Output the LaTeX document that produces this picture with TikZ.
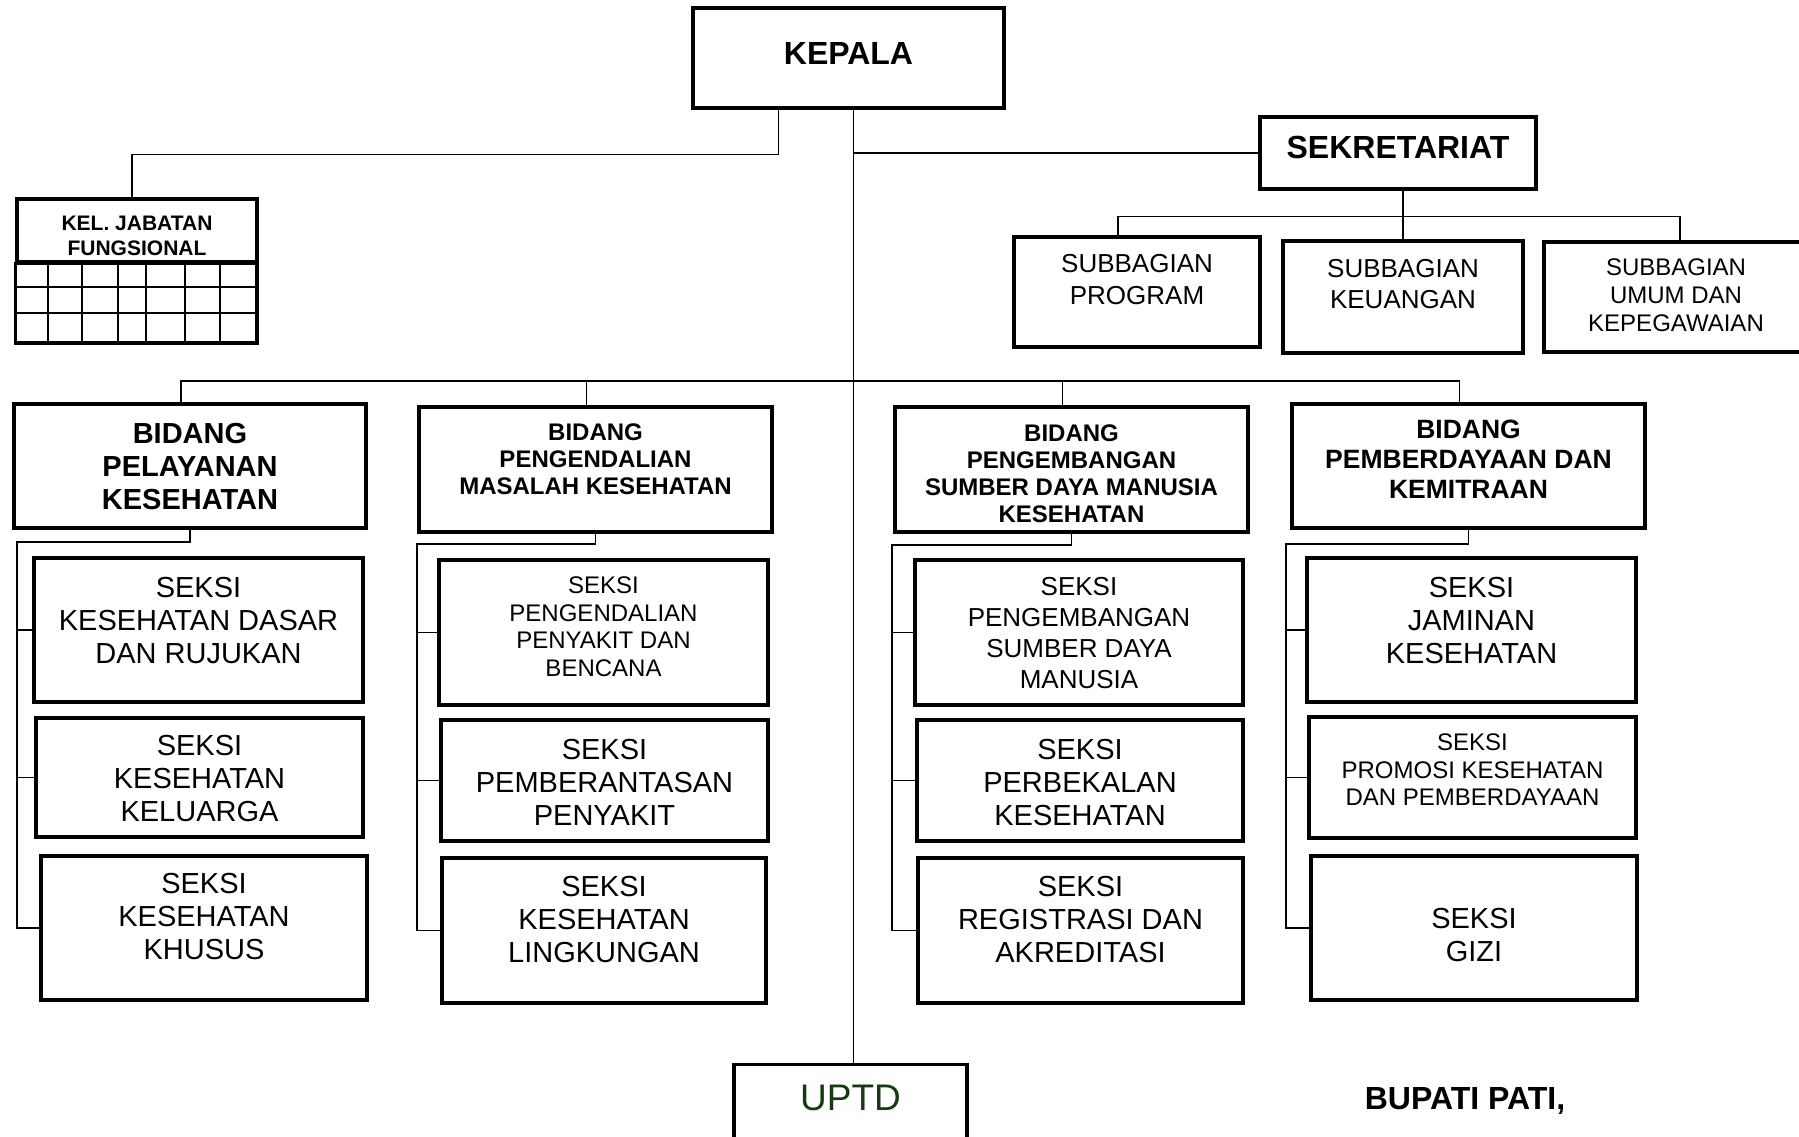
\documentclass[tikz,border=0pt]{standalone}
\usepackage{fontspec}
\setmainfont{Liberation Sans}
\definecolor{uptdgreen}{RGB}{22,58,18}
% lines of a box, lifted by #1 inside the box
\newcommand\lift[2]{\raisebox{#1}[\height][\depth]{\begin{tabular}{@{}c@{}}#2\end{tabular}}}

\begin{document}
\begin{tikzpicture}[x = 1pt, y = -1pt,
    box/.style = { draw, line width = 3.2pt, inner sep = 0pt },
    link/.style = { line width = 1.3pt },
    head/.style = { font = \bfseries\fontsize{32}{36}\selectfont },
    bid/.style = { font = \bfseries\fontsize{29}{33}\selectfont },
    bidsm/.style = { font = \bfseries\fontsize{24}{27}\selectfont },
    sub/.style = { font = \fontsize{26}{32}\selectfont },
    subsm/.style = { font = \fontsize{24}{28}\selectfont },
    seksi/.style = { font = \fontsize{29}{33}\selectfont },
    seksism/.style = { font = \fontsize{24}{27.5}\selectfont }]

  \useasboundingbox (0,0) rectangle (1799,1137);

  % pimpinan dan sekretariat
  \node [box, head, minimum width = 311pt, minimum height = 100pt] (kepala) at (848.5,58) { \raisebox{5pt}[\height][\depth]{KEPALA} };
  \node [box, head, minimum width = 276pt, minimum height = 72pt] (sekr) at (1398,153) { \raisebox{6pt}[\height][\depth]{SEKRETARIAT} };
  \node [box, sub, minimum width = 246pt, minimum height = 110pt] (prog) at (1137,292) { \lift{10pt}{SUBBAGIAN \\ PROGRAM} };
  \node [box, font = \fontsize{26}{31}\selectfont, minimum width = 240pt, minimum height = 112pt] (keu) at (1403,297) { \lift{10pt}{SUBBAGIAN \\ KEUANGAN} };
  \node [box, subsm, minimum width = 264pt, minimum height = 110pt] (umum) at (1676,297) { \lift{-1pt}{SUBBAGIAN \\ UMUM DAN \\ KEPEGAWAIAN} };

  % jabatan fungsional
  \node [box, font = \bfseries\fontsize{21}{25}\selectfont, minimum width = 240pt, minimum height = 63pt] (jab) at (137,230.5) { \lift{-7pt}{KEL. JABATAN \\ FUNGSIONAL} };
  \draw [line width = 3.2pt] (jab.south west) rectangle (257,343);
  \draw [link] (17,287) -- (257,287) (17,313) -- (257,313);
  \foreach \x in {48,82,118,146,185,220}
    \draw [link] (\x,262) -- (\x,343);

  % bidang
  \node [box, bid, minimum width = 352pt, minimum height = 124pt] (b1) at (190,466) { \lift{-4pt}{BIDANG \\ PELAYANAN \\ KESEHATAN} };
  \node [box, bidsm, minimum width = 353pt, minimum height = 125pt] (b2) at (595.5,469.5) { \lift{7pt}{BIDANG \\ PENGENDALIAN \\ MASALAH KESEHATAN} };
  \node [box, bidsm, minimum width = 353pt, minimum height = 125pt] (b3) at (1071.5,469.5) { \lift{-7pt}{BIDANG \\ PENGEMBANGAN \\ SUMBER DAYA MANUSIA \\ KESEHATAN} };
  \node [box, font = \bfseries\fontsize{26.5}{30}\selectfont, minimum width = 353pt, minimum height = 124pt] (b4) at (1468.5,466) { \lift{3.5pt}{BIDANG \\ PEMBERDAYAAN DAN \\ KEMITRAAN} };

  % seksi
  \node [box, seksi, minimum width = 329pt, minimum height = 144pt] (s11) at (198.5,630) { \lift{6pt}{SEKSI \\ KESEHATAN DASAR \\ DAN RUJUKAN} };
  \node [box, seksi, minimum width = 327pt, minimum height = 119pt] (s12) at (199.5,777.5) { \lift{-4pt}{SEKSI \\ KESEHATAN \\ KELUARGA} };
  \node [box, seksi, minimum width = 326pt, minimum height = 144pt] (s13) at (204,928) { \lift{8pt}{SEKSI \\ KESEHATAN \\ KHUSUS} };
  \node [box, seksism, minimum width = 329pt, minimum height = 145pt] (s21) at (603.5,632.5) { \lift{3pt}{SEKSI \\ PENGENDALIAN \\ PENYAKIT DAN \\ BENCANA} };
  \node [box, seksi, minimum width = 327pt, minimum height = 121pt] (s22) at (604.5,780.5) { \lift{-5pt}{SEKSI \\ PEMBERANTASAN \\ PENYAKIT} };
  \node [box, seksi, minimum width = 324pt, minimum height = 145pt] (s23) at (604,930.5) { \lift{8pt}{SEKSI \\ KESEHATAN \\ LINGKUNGAN} };
  \node [box, font = \fontsize{26}{31}\selectfont, minimum width = 328pt, minimum height = 145pt] (s31) at (1079,632.5) { \lift{-3pt}{SEKSI \\ PENGEMBANGAN \\ SUMBER DAYA \\ MANUSIA} };
  \node [box, seksi, minimum width = 326pt, minimum height = 121pt] (s32) at (1080,780.5) { \lift{-5pt}{SEKSI \\ PERBEKALAN \\ KESEHATAN} };
  \node [box, seksi, minimum width = 325pt, minimum height = 145pt] (s33) at (1080.5,930.5) { \lift{8pt}{SEKSI \\ REGISTRASI DAN \\ AKREDITASI} };
  \node [box, seksi, minimum width = 329pt, minimum height = 144pt] (s41) at (1471.5,630) { \lift{6pt}{SEKSI \\ JAMINAN \\ KESEHATAN} };
  \node [box, seksism, minimum width = 327pt, minimum height = 121pt] (s42) at (1472.5,777.5) { \lift{5pt}{SEKSI \\ PROMOSI KESEHATAN \\ DAN PEMBERDAYAAN} };
  \node [box, seksi, minimum width = 326pt, minimum height = 144pt] (s43) at (1474,928) { \lift{-10pt}{SEKSI \\ GIZI} };

  % uptd dan tanda tangan
  \node [box, font = \fontsize{37}{40}\selectfont, text = uptdgreen, anchor = north,
    minimum width = 233pt, text height = 46pt, text depth = 80pt] (uptd) at (850.5,1063) { UPTD };
  \node [font = \bfseries\fontsize{32}{36}\selectfont, anchor = base] (bupati) at (1465,1109.5) { BUPATI PATI, };

  % garis
  \coordinate (top) at ([xshift = 5pt]kepala.south);
  \draw [link] (top) -- (top |- uptd.north);
  \draw [link] (top |- sekr.west) -- (sekr.west);
  \draw [link] ([xshift = -70pt]kepala.south) -- ++(0,45) -| ([xshift = -5pt]jab.north);
  \draw [link] ([xshift = 5pt]sekr.south) -- ([xshift = 5pt]sekr.south |- keu.north);
  \draw [link] ([xshift = -19pt]prog.north) -- ++(0,-19) -| ([xshift = 4pt]umum.north);

  \coordinate (bus) at (0,381);
  \draw [link] ([xshift = -9pt]b1.north) |- ([xshift = -9pt]b4.north |- bus) -- ([xshift = -9pt]b4.north);
  \draw [link] ([xshift = -9pt]b2.north) -- ([xshift = -9pt]b2.north |- bus);
  \draw [link] ([xshift = -9pt]b3.north) -- ([xshift = -9pt]b3.north |- bus);

  \coordinate (k1) at (17,542);
  \coordinate (k2) at (417,544);
  \coordinate (k3) at (892,545);
  \coordinate (k4) at (1286,544);
  \foreach \c in {1,...,4} {
    \draw [link] (b\c.south) |- (k\c) |- (s\c3.west);
    \draw [link] (k\c |- s\c1.west) -- (s\c1.west);
    \draw [link] (k\c |- s\c2.west) -- (s\c2.west);
  }
\end{tikzpicture}
\end{document}
